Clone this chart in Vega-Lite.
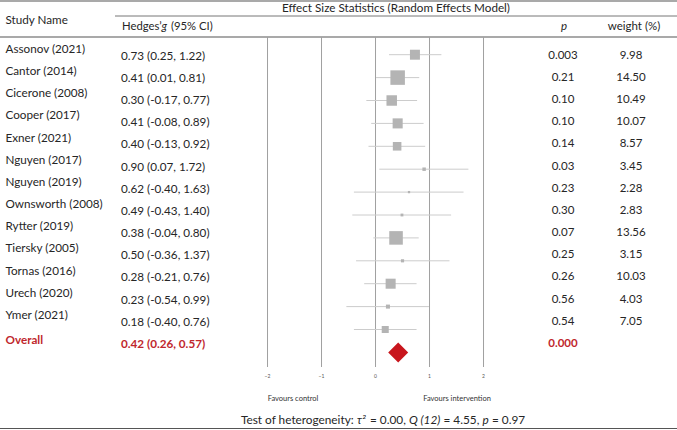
{
  "$schema": "https://vega.github.io/schema/vega-lite/v6.json",
  "width": 677,
  "height": 430,
  "autosize": "none",
  "padding": 0,
  "background": "white",
  "config": {"view": {"stroke": null}, "text": {"font": "Lato"}},
  "datasets": {
    "studies": [
      {"study": "Assonov (2021)", "g": 0.73, "lo": 0.25, "hi": 1.22, "ci": "0.73 (0.25, 1.22)", "p": "0.003", "weight": 9.98},
      {"study": "Cantor (2014)", "g": 0.41, "lo": 0.01, "hi": 0.81, "ci": "0.41 (0.01, 0.81)", "p": "0.21", "weight": 14.50},
      {"study": "Cicerone (2008)", "g": 0.30, "lo": -0.17, "hi": 0.77, "ci": "0.30 (-0.17, 0.77)", "p": "0.10", "weight": 10.49},
      {"study": "Cooper (2017)", "g": 0.41, "lo": -0.08, "hi": 0.89, "ci": "0.41 (-0.08, 0.89)", "p": "0.10", "weight": 10.07},
      {"study": "Exner (2021)", "g": 0.40, "lo": -0.13, "hi": 0.92, "ci": "0.40 (-0.13, 0.92)", "p": "0.14", "weight": 8.57},
      {"study": "Nguyen (2017)", "g": 0.90, "lo": 0.07, "hi": 1.72, "ci": "0.90 (0.07, 1.72)", "p": "0.03", "weight": 3.45},
      {"study": "Nguyen (2019)", "g": 0.62, "lo": -0.40, "hi": 1.63, "ci": "0.62 (-0.40, 1.63)", "p": "0.23", "weight": 2.28},
      {"study": "Ownsworth (2008)", "g": 0.49, "lo": -0.43, "hi": 1.40, "ci": "0.49 (-0.43, 1.40)", "p": "0.30", "weight": 2.83},
      {"study": "Rytter (2019)", "g": 0.38, "lo": -0.04, "hi": 0.80, "ci": "0.38 (-0.04, 0.80)", "p": "0.07", "weight": 13.56},
      {"study": "Tiersky (2005)", "g": 0.50, "lo": -0.36, "hi": 1.37, "ci": "0.50 (-0.36, 1.37)", "p": "0.25", "weight": 3.15},
      {"study": "Tornas (2016)", "g": 0.28, "lo": -0.21, "hi": 0.76, "ci": "0.28 (-0.21, 0.76)", "p": "0.26", "weight": 10.03},
      {"study": "Urech (2020)", "g": 0.23, "lo": -0.54, "hi": 0.99, "ci": "0.23 (-0.54, 0.99)", "p": "0.56", "weight": 4.03},
      {"study": "Ymer (2021)", "g": 0.18, "lo": -0.40, "hi": 0.76, "ci": "0.18 (-0.40, 0.76)", "p": "0.54", "weight": 7.05},
      {"study": "Overall", "g": 0.42, "lo": 0.26, "hi": 0.57, "ci": "0.42 (0.26, 0.57)", "p": "0.000", "weight": null}
    ],
    "ticks": [{"t": -2}, {"t": -1}, {"t": 0}, {"t": 1}, {"t": 2}]
  },
  "resolve": {"scale": {"y": "independent"}},
  "layer": [
    {
      "data": {"values": [{}]},
      "layer": [
        {"mark": {"type": "rule", "color": "#555", "strokeWidth": 1.2}, "encoding": {"x": {"value": 0}, "x2": {"value": 677}, "y": {"value": 1}}},
        {"mark": {"type": "rule", "color": "#777", "strokeWidth": 1}, "encoding": {"x": {"value": 115}, "x2": {"value": 677}, "y": {"value": 16}}},
        {"mark": {"type": "rule", "color": "#555", "strokeWidth": 1.2}, "encoding": {"x": {"value": 0}, "x2": {"value": 677}, "y": {"value": 37}}},
        {"mark": {"type": "rule", "color": "#555", "strokeWidth": 1.2}, "encoding": {"x": {"value": 0}, "x2": {"value": 677}, "y": {"value": 428.5}}},
        {"mark": {"type": "text", "text": "Study Name", "align": "left", "baseline": "middle", "fontSize": 11.7, "color": "#262626"}, "encoding": {"x": {"value": 5.5}, "y": {"value": 20}}},
        {"mark": {"type": "text", "text": "Effect Size Statistics (Random Effects Model)", "align": "center", "baseline": "middle", "fontSize": 11.7, "color": "#262626"}, "encoding": {"x": {"value": 396}, "y": {"value": 8}}},
        {"mark": {"type": "text", "text": "Hedges’", "align": "left", "baseline": "middle", "fontSize": 11.3, "color": "#262626"}, "encoding": {"x": {"value": 122}, "y": {"value": 27}}},
        {"mark": {"type": "text", "text": "g", "align": "left", "baseline": "middle", "fontSize": 11.3, "fontStyle": "italic", "color": "#262626"}, "encoding": {"x": {"value": 161.5}, "y": {"value": 27}}},
        {"mark": {"type": "text", "text": "(95% CI)", "align": "left", "baseline": "middle", "fontSize": 11.3, "color": "#262626"}, "encoding": {"x": {"value": 171}, "y": {"value": 27}}},
        {"mark": {"type": "text", "text": "p", "align": "center", "baseline": "middle", "fontSize": 11.5, "fontStyle": "italic", "color": "#262626"}, "encoding": {"x": {"value": 564}, "y": {"value": 27}}},
        {"mark": {"type": "text", "text": "weight (%)", "align": "center", "baseline": "middle", "fontSize": 11.5, "color": "#262626"}, "encoding": {"x": {"value": 634}, "y": {"value": 27}}},
        {"mark": {"type": "text", "text": "Favours control", "align": "center", "baseline": "middle", "fontSize": 7.5, "color": "#333"}, "encoding": {"x": {"value": 293}, "y": {"value": 399}}},
        {"mark": {"type": "text", "text": "Favours intervention", "align": "center", "baseline": "middle", "fontSize": 7.5, "color": "#333"}, "encoding": {"x": {"value": 457}, "y": {"value": 399}}},
        {"mark": {"type": "text", "text": "Test of heterogeneity:", "align": "left", "baseline": "alphabetic", "fontSize": 11.8, "color": "#262626"}, "encoding": {"x": {"value": 241}, "y": {"value": 424}}},
        {"mark": {"type": "text", "text": "τ²", "align": "left", "baseline": "alphabetic", "fontSize": 11.3, "fontStyle": "italic", "color": "#262626"}, "encoding": {"x": {"value": 357}, "y": {"value": 424}}},
        {"mark": {"type": "text", "text": "= 0.00,", "align": "left", "baseline": "alphabetic", "fontSize": 11.8, "color": "#262626"}, "encoding": {"x": {"value": 370}, "y": {"value": 424}}},
        {"mark": {"type": "text", "text": "Q (12)", "align": "left", "baseline": "alphabetic", "fontSize": 11.8, "fontStyle": "italic", "color": "#262626"}, "encoding": {"x": {"value": 409}, "y": {"value": 424}}},
        {"mark": {"type": "text", "text": "= 4.55,", "align": "left", "baseline": "alphabetic", "fontSize": 11.8, "color": "#262626"}, "encoding": {"x": {"value": 443.5}, "y": {"value": 424}}},
        {"mark": {"type": "text", "text": "p", "align": "left", "baseline": "alphabetic", "fontSize": 11.8, "fontStyle": "italic", "color": "#262626"}, "encoding": {"x": {"value": 482.5}, "y": {"value": 424}}},
        {"mark": {"type": "text", "text": "= 0.97", "align": "left", "baseline": "alphabetic", "fontSize": 11.8, "color": "#262626"}, "encoding": {"x": {"value": 492}, "y": {"value": 424}}}
      ]
    },
    {
      "data": {"name": "ticks"},
      "layer": [
        {"mark": {"type": "rule", "color": "#a0a0a0", "strokeWidth": 1}, "encoding": {"x": {"field": "t", "type": "quantitative", "scale": {"domain": [-6.954, 5.583], "range": [0, 677], "nice": false, "zero": false}, "axis": null}, "y": {"value": 37}, "y2": {"value": 367}}},
        {"mark": {"type": "text", "fontSize": 5, "color": "#555", "baseline": "middle"}, "encoding": {"x": {"field": "t", "type": "quantitative"}, "y": {"value": 376}, "text": {"field": "t", "type": "quantitative"}}}
      ]
    },
    {
      "data": {"name": "studies"},
      "encoding": {
        "y": {"field": "study", "type": "nominal", "sort": null, "scale": {"type": "point", "range": [54.7, 352.4], "padding": 0}, "axis": null}
      },
      "layer": [
        {"transform": [{"filter": "datum.study !== 'Overall'"}], "mark": {"type": "rule", "color": "#cccccc", "strokeWidth": 1}, "encoding": {"x": {"field": "lo", "type": "quantitative"}, "x2": {"field": "hi"}}},
        {"transform": [{"filter": "datum.study !== 'Overall'"}], "mark": {"type": "point", "shape": "square", "filled": true, "color": "#b4b4b4", "opacity": 1}, "encoding": {"x": {"field": "g", "type": "quantitative"}, "size": {"field": "weight", "type": "quantitative", "scale": {"type": "pow", "exponent": 2, "domain": [0, 15], "range": [0, 225]}, "legend": null}}},
        {"transform": [{"filter": "datum.study === 'Overall'"}], "mark": {"type": "point", "shape": "diamond", "filled": true, "color": "#c8161d", "opacity": 1, "size": 400}, "encoding": {"x": {"field": "g", "type": "quantitative"}}}
      ]
    },
    {
      "data": {"name": "studies"},
      "encoding": {
        "y": {"field": "study", "type": "nominal", "sort": null, "scale": {"type": "point", "range": [55.7, 343.9], "padding": 0}, "axis": null}
      },
      "layer": [
        {"transform": [{"filter": "datum.study !== 'Overall'"}], "mark": {"type": "text", "align": "left", "baseline": "middle", "fontSize": 11.7, "color": "#262626", "dy": -6.8}, "encoding": {"x": {"value": 5.5}, "text": {"field": "study"}}},
        {"transform": [{"filter": "datum.study !== 'Overall'"}], "mark": {"type": "text", "align": "left", "baseline": "middle", "fontSize": 11.7, "color": "#262626"}, "encoding": {"x": {"value": 121}, "text": {"field": "ci"}}},
        {"transform": [{"filter": "datum.study !== 'Overall'"}], "mark": {"type": "text", "align": "center", "baseline": "middle", "fontSize": 11.5, "color": "#262626"}, "encoding": {"x": {"value": 563}, "text": {"field": "p"}}},
        {"transform": [{"filter": "datum.study !== 'Overall'"}], "mark": {"type": "text", "align": "center", "baseline": "middle", "fontSize": 11.5, "color": "#262626"}, "encoding": {"x": {"value": 631}, "text": {"field": "weight", "type": "quantitative", "format": ".2f"}}},
        {"transform": [{"filter": "datum.study === 'Overall'"}], "mark": {"type": "text", "align": "left", "baseline": "middle", "fontSize": 11.7, "fontWeight": "bold", "color": "#c0272d", "dy": -4}, "encoding": {"x": {"value": 5.5}, "text": {"field": "study"}}},
        {"transform": [{"filter": "datum.study === 'Overall'"}], "mark": {"type": "text", "align": "left", "baseline": "middle", "fontSize": 11.7, "fontWeight": "bold", "color": "#c0272d"}, "encoding": {"x": {"value": 121}, "text": {"field": "ci"}}},
        {"transform": [{"filter": "datum.study === 'Overall'"}], "mark": {"type": "text", "align": "center", "baseline": "middle", "fontSize": 11.5, "fontWeight": "bold", "color": "#c0272d"}, "encoding": {"x": {"value": 563}, "text": {"field": "p"}}}
      ]
    }
  ]
}
